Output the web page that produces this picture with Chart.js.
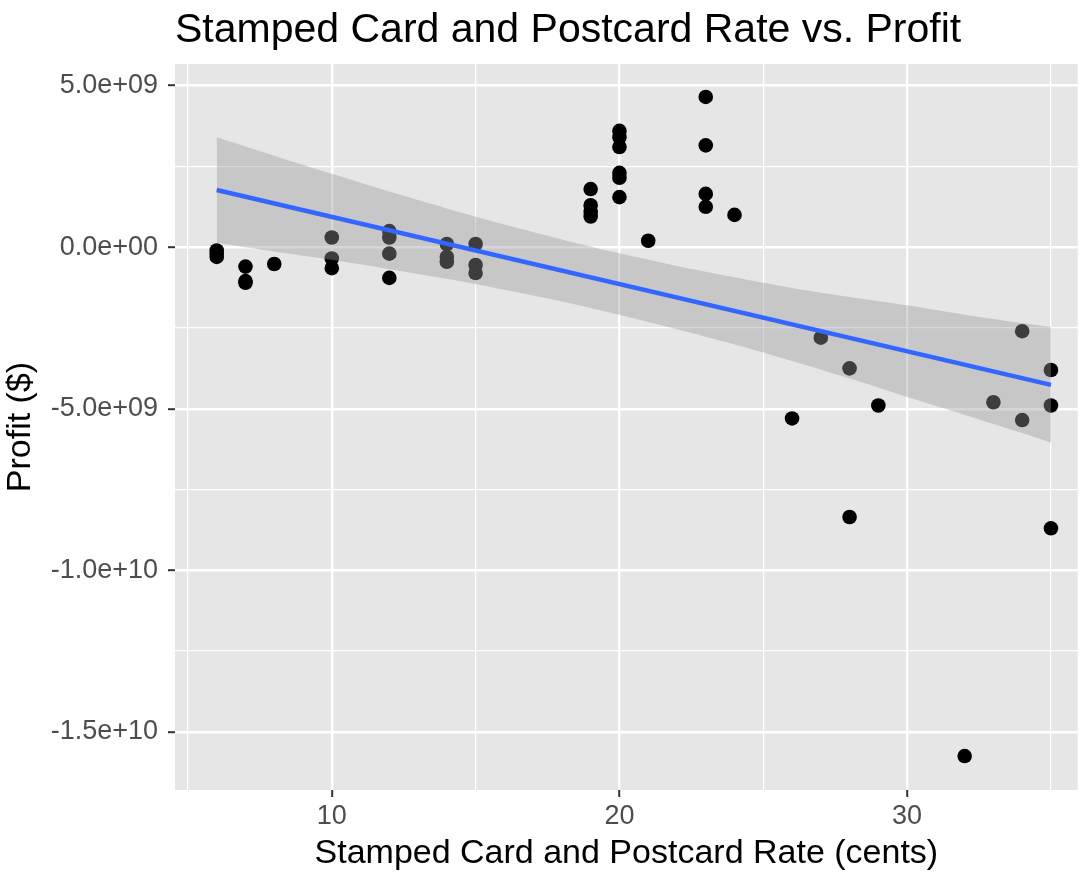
<!DOCTYPE html>
<html>
<head>
<meta charset="utf-8">
<script src="https://cdn.jsdelivr.net/npm/chart.js@4.4.1/dist/chart.umd.min.js"></script>
<style>
  html, body { margin: 0; padding: 0; background: #ffffff; }
  #wrap { width: 1085px; height: 874px; }
</style>
</head>
<body>
<div id="wrap"><canvas id="chart" width="1085" height="874"></canvas></div>
<script>
// Observations: stamped card / postcard rate (cents) and profit ($)
const rateCents = [
  6, 6, 6,
  7, 7, 7,
  8,
  10, 10, 10,
  12, 12, 12, 12,
  14, 14, 14,
  15, 15, 15,
  19, 19, 19, 19,
  20, 20, 20, 20, 20, 20,
  21,
  23, 23, 23, 23,
  24,
  26, 27, 28, 28, 29,
  32, 33, 34, 34,
  35, 35, 35
];
const profitUSD = [
  -0.10e9, -0.20e9, -0.30e9,
  -0.60e9, -1.05e9, -1.10e9,
  -0.52e9,
  0.30e9, -0.35e9, -0.65e9,
  0.50e9, 0.30e9, -0.20e9, -0.95e9,
  0.10e9, -0.30e9, -0.45e9,
  0.10e9, -0.55e9, -0.80e9,
  1.80e9, 1.30e9, 1.10e9, 0.95e9,
  3.60e9, 3.40e9, 3.10e9, 2.30e9, 2.15e9, 1.55e9,
  0.20e9,
  4.65e9, 3.15e9, 1.65e9, 1.25e9,
  1.00e9,
  -5.30e9, -2.80e9, -3.75e9, -8.35e9, -4.90e9,
  -15.75e9, -4.80e9, -2.60e9, -5.35e9,
  -3.80e9, -4.90e9, -8.70e9
];

// Linear trend line end points
const fitRate = [6, 35];
const fitProfit = [1.77e9, -4.26e9];

// Confidence band around the trend
const bandRate  = [6, 8, 10, 12, 14, 16, 18, 20, 22, 24, 26, 28, 30, 32, 34, 35];
const bandUpper = [3.40e9, 2.83e9, 2.27e9, 1.72e9, 1.20e9, 0.70e9, 0.24e9, -0.19e9,
                   -0.58e9, -0.93e9, -1.26e9, -1.54e9, -1.80e9, -2.09e9, -2.35e9, -2.47e9];
const bandLower = [0.14e9, -0.13e9, -0.39e9, -0.68e9, -0.98e9, -1.32e9, -1.68e9, -2.09e9,
                   -2.54e9, -3.01e9, -3.52e9, -4.06e9, -4.64e9, -5.19e9, -5.75e9, -6.05e9];

// Axis ticks (blank label = minor grid line)
const xTickValues = [5, 10, 15, 20, 25, 30, 35];
const xTickLabels = ['', '10', '', '20', '', '30', ''];
const yTickValues = [-1.5e10, -1.25e10, -1.0e10, -7.5e9, -5.0e9, -2.5e9, 0, 2.5e9, 5.0e9];
const yTickLabels = ['-1.5e+10', '', '-1.0e+10', '', '-5.0e+09', '', '0.0e+00', '', '5.0e+09'];

const toXY = (xs, ys) => xs.map((x, i) => ({ x: x, y: ys[i] }));

Chart.defaults.font.family = '"Liberation Sans", Arial, Helvetica, sans-serif';

const panelBackground = {
  id: 'panelBackground',
  beforeDraw(chart) {
    const { ctx, chartArea: a } = chart;
    ctx.save();
    ctx.fillStyle = '#E6E6E6';
    ctx.fillRect(a.left, a.top, a.right - a.left, a.bottom - a.top);
    ctx.restore();
  }
};

const isMajorX = ctx => xTickLabels[ctx.index] !== '';
const isMajorY = ctx => yTickLabels[ctx.index] !== '';

new Chart(document.getElementById('chart'), {
  type: 'scatter',
  data: {
    datasets: [
      {
        label: 'Profit',
        data: toXY(rateCents, profitUSD),
        backgroundColor: '#000000',
        borderWidth: 0,
        pointRadius: 7.3,
        pointHoverRadius: 7.3,
        order: 3
      },
      {
        type: 'line',
        label: 'Upper',
        data: toXY(bandRate, bandUpper),
        borderColor: 'rgba(0,0,0,0)',
        borderWidth: 0,
        pointRadius: 0,
        tension: 0.3,
        fill: '+1',
        backgroundColor: 'rgba(153,153,153,0.4)',
        order: 2
      },
      {
        type: 'line',
        label: 'Lower',
        data: toXY(bandRate, bandLower),
        borderColor: 'rgba(0,0,0,0)',
        borderWidth: 0,
        pointRadius: 0,
        tension: 0.3,
        fill: false,
        order: 2
      },
      {
        type: 'line',
        label: 'Trend',
        data: toXY(fitRate, fitProfit),
        borderColor: '#3366FF',
        borderWidth: 4.5,
        pointRadius: 0,
        fill: false,
        order: 1
      }
    ]
  },
  options: {
    responsive: false,
    animation: false,
    devicePixelRatio: 1,
    layout: { padding: 0 },
    plugins: {
      legend: { display: false },
      tooltip: { enabled: false },
      title: {
        display: true,
        text: 'Stamped Card and Postcard Rate vs. Profit',
        align: 'start',
        fullSize: false,
        color: '#000000',
        font: { size: 41, weight: 'normal', lineHeight: 1.2 },
        padding: { top: 6, bottom: 8.8 }
      }
    },
    scales: {
      x: {
        type: 'linear',
        min: 4.55,
        max: 35.93,
        afterBuildTicks: s => { s.ticks = xTickValues.map(v => ({ value: v })); },
        afterFit: s => { s.height = 84; },
        ticks: {
          autoSkip: false,
          maxRotation: 0,
          color: '#4D4D4D',
          font: { size: 27 },
          padding: 3,
          callback: (v, i) => xTickLabels[i]
        },
        grid: {
          color: '#FFFFFF',
          lineWidth: ctx => isMajorX(ctx) ? 2.4 : 1.2,
          tickLength: 7,
          tickWidth: 2,
          tickColor: ctx => isMajorX(ctx) ? '#333333' : 'rgba(0,0,0,0)'
        },
        border: { display: false },
        title: {
          display: true,
          text: 'Stamped Card and Postcard Rate (cents)',
          color: '#000000',
          font: { size: 34, lineHeight: 1.2 },
          padding: { top: 0, bottom: 0 }
        }
      },
      y: {
        type: 'linear',
        min: -1.68e10,
        max: 5.67e9,
        afterBuildTicks: s => { s.ticks = yTickValues.map(v => ({ value: v })); },
        afterFit: s => { s.width = 175; },
        ticks: {
          autoSkip: false,
          color: '#4D4D4D',
          font: { size: 27 },
          padding: 10,
          callback: (v, i) => yTickLabels[i]
        },
        grid: {
          color: '#FFFFFF',
          lineWidth: ctx => isMajorY(ctx) ? 2.4 : 1.2,
          tickLength: 7,
          tickWidth: 2,
          tickColor: ctx => isMajorY(ctx) ? '#333333' : 'rgba(0,0,0,0)'
        },
        border: { display: false },
        title: {
          display: true,
          text: 'Profit ($)',
          color: '#000000',
          font: { size: 34, lineHeight: 1.2 },
          padding: { top: 0, bottom: 0 }
        }
      }
    }
  },
  plugins: [panelBackground]
});
</script>
</body>
</html>
